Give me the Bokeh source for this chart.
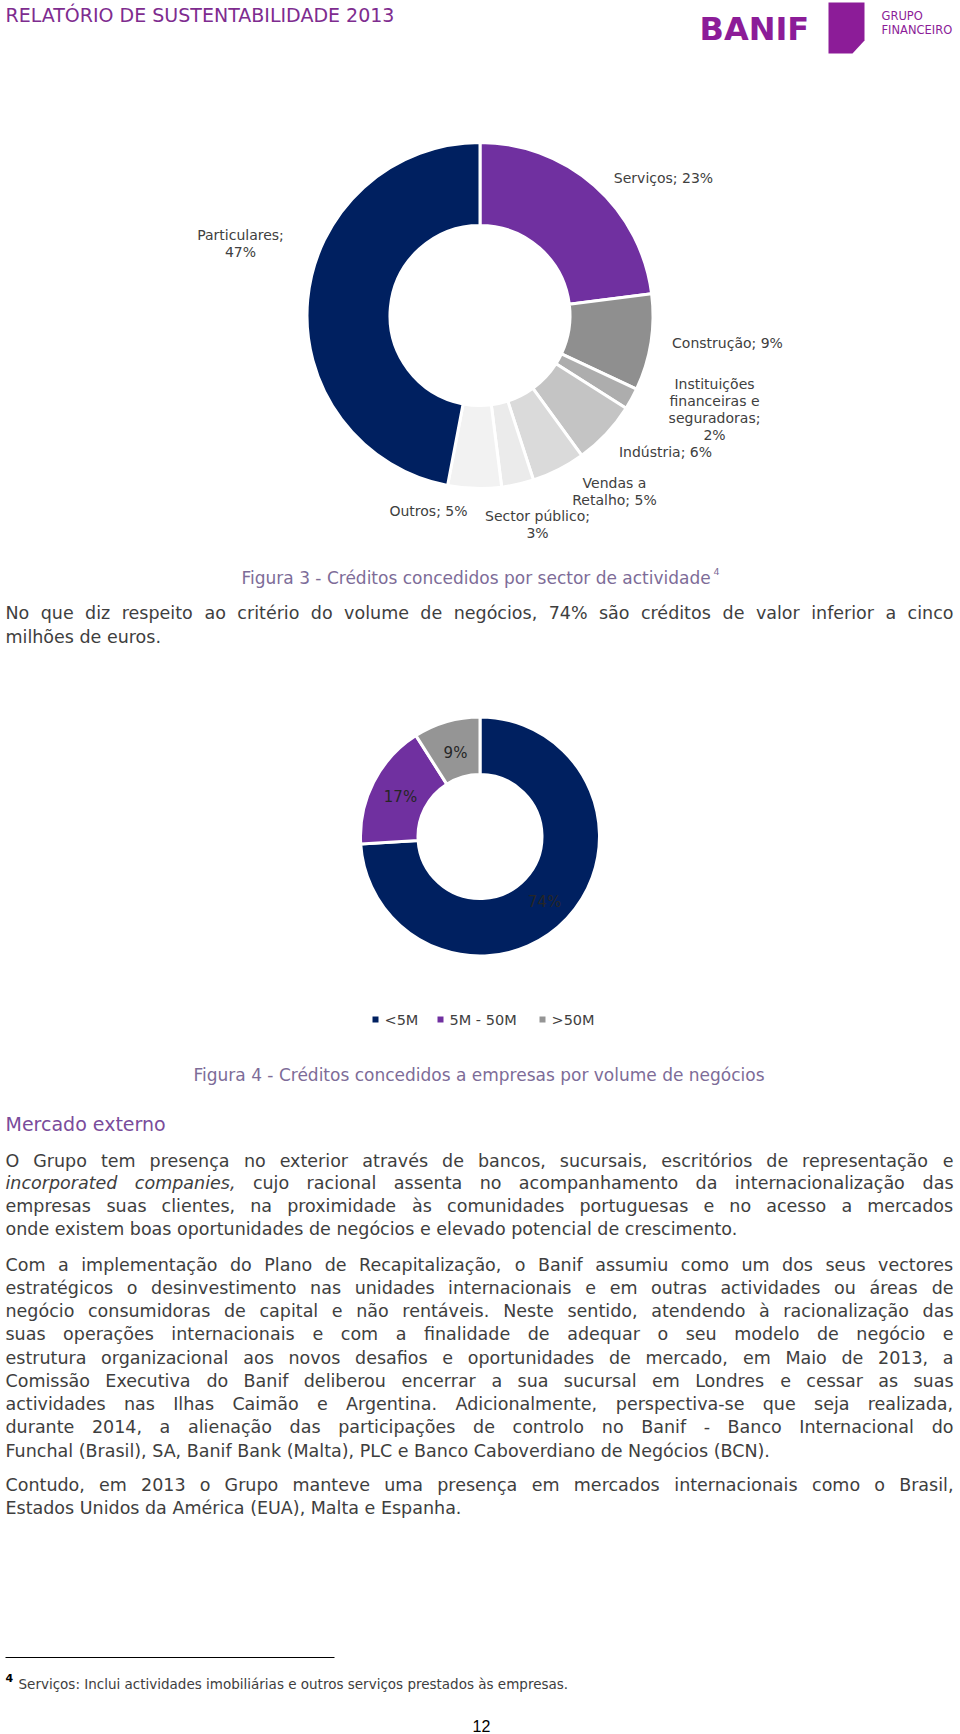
import math
import re
import unicodedata
from bokeh.plotting import figure
from bokeh.models import Range1d
from bokeh.embed import file_html
from bokeh.resources import INLINE
from bokeh.core.properties import value

# ---------------- data ----------------
sector_names = ["Serviços", "Construção", "Instituições financeiras e seguradoras",
                "Indústria", "Vendas a Retalho", "Sector público", "Outros", "Particulares"]
sector_pct = [23, 9, 2, 6, 5, 3, 5, 47]

volume_names = ["<5M", "5M - 50M", ">50M"]
volume_pct = [74, 17, 9]

# ---------------- styles / layout ----------------
W, H = 960, 1734
FONT = "DejaVu Sans"
NAVY, PURPLE = "#002060", "#7030A0"
sector_colors = [PURPLE, "#8F8F8F", "#ADADAD", "#C4C4C4", "#DADADA", "#EBEBEB", "#F2F2F2", NAVY]
volume_colors = [NAVY, PURPLE, "#959595"]
TXT = "#3E3E3E"
LBL = "#404040"
CAP = "#7D6C98"
LOGO = "#8C1C98"

p = figure(width=W, height=H, x_range=Range1d(0, W), y_range=Range1d(0, H),
           x_axis_type=None, y_axis_type=None, toolbar_location=None,
           output_backend="svg", min_border=0)
p.outline_line_color = None
p.grid.visible = False
p.background_fill_color = "white"
p.border_fill_color = "white"


def txt(x, y, s, size, color=TXT, align="left", style="normal", font=FONT, lh=1.2, baseline="middle"):
    p.text(x=[x], y=[H - y], text=[s], text_font=value(font), text_font_size=f"{size}px",
           text_color=color, text_align=align, text_baseline=baseline,
           text_font_style=style, text_line_height=lh)


# DejaVu Sans advance widths (units per em = 2048), used only to justify body lines
_ADV = {" ": 651, ",": 651, ".": 651, "-": 739, ":": 690, ";": 690, "(": 799, ")": 799, "%": 1946,
        "a": 1255, "b": 1300, "c": 1126, "d": 1300, "e": 1260, "f": 721, "g": 1300, "h": 1298,
        "i": 569, "j": 569, "k": 1186, "l": 569, "m": 1995, "n": 1298, "o": 1253, "p": 1300,
        "q": 1300, "r": 842, "s": 1067, "t": 803, "u": 1298, "v": 1212, "w": 1675, "x": 1212,
        "y": 1212, "z": 1075,
        "A": 1401, "B": 1405, "C": 1430, "D": 1577, "E": 1294, "F": 1178, "G": 1587, "H": 1540,
        "I": 604, "J": 604, "K": 1343, "L": 1141, "M": 1767, "N": 1532, "O": 1612, "P": 1235,
        "Q": 1612, "R": 1423, "S": 1300, "T": 1251, "U": 1499, "V": 1401, "W": 2025, "X": 1403,
        "Y": 1251, "Z": 1403}


def word_w(wd, size):
    tot = 0
    for ch in wd:
        if ch.isdigit():
            tot += 1303
            continue
        base = unicodedata.normalize("NFD", ch)[0]
        tot += _ADV.get(base, 1200)
    return tot / 2048.0 * size


LEFT, RIGHT = 5, 953
BODY = 17.5
_NUMLIKE = re.compile(r"^[0-9eE.,+\-]+$")
WJ = "\u2060"   # zero-width word joiner: keeps number-like words on the common text baseline


def body_words(xs, y, ws, style):
    p.text(x=xs, y=[H - y] * len(xs), text=ws, text_font=value(FONT),
           text_font_size=f"{BODY}px", text_color=TXT, text_align="left",
           text_baseline="middle", text_font_style=style)


def body_line(y, line, justify=True, n_italic=0):
    if not justify:
        body_words([LEFT], y, [line], "normal")
        return
    words = line.split(" ")
    widths = [word_w(w, BODY) for w in words]
    gap = (RIGHT - LEFT - sum(widths)) / (len(words) - 1)
    x = LEFT
    xs_n, ws_n, xs_i, ws_i = [], [], [], []
    for k, (w, wd) in enumerate(zip(words, widths)):
        shown = WJ + w if _NUMLIKE.match(w) else w
        if k < n_italic:
            xs_i.append(x); ws_i.append(shown)
        else:
            xs_n.append(x); ws_n.append(shown)
        x += wd + gap
    if xs_n:
        body_words(xs_n, y, ws_n, "normal")
    if xs_i:
        body_words(xs_i, y, ws_i, "italic")


def paragraph(y0, dy, lines, italic=None):
    italic = italic or {}
    for i, line in enumerate(lines):
        last = i == len(lines) - 1
        body_line(y0 + i * dy, line, justify=not last, n_italic=italic.get(i, 0))


def donut(cx, cy, R, r, vals, colors):
    total = float(sum(vals))
    starts, ends, cum = [], [], 0.0
    for v in vals:
        starts.append(math.pi / 2 - 2 * math.pi * (cum + v) / total)
        ends.append(math.pi / 2 - 2 * math.pi * cum / total)
        cum += v
    p.annular_wedge(x=cx, y=H - cy, inner_radius=r, outer_radius=R,
                    start_angle=starts, end_angle=ends, fill_color=colors,
                    line_color="white", line_width=3)


# ---------------- header ----------------
txt(5, 14, "RELATÓRIO DE SUSTENTABILIDADE 2013", 19, "#7E2C8F")
txt(699, 28.5, "BANIF", 32, LOGO, style="bold", baseline="alphabetic")
p.patch(x=[828, 864, 864, 852, 828], y=[H - 2, H - 2, H - 40, H - 53, H - 53],
        fill_color=LOGO, line_color=None)
txt(881, 15, "GRUPO", 11.5, LOGO)
txt(881, 29, "FINANCEIRO", 11.5, LOGO)

# ---------------- donut 1 ----------------
donut(479.5, 315, 173, 90, sector_pct, sector_colors)

# label layout: (center x, center y, words per line)
sector_label_pos = [(663, 177, [3]), (727, 342, [3]), (714, 409, [1, 2, 1, 1]),
                    (665, 451, [3]), (614, 491, [2, 2]), (537, 524, [2, 1]),
                    (428, 510, [3]), (240, 243, [1, 1])]
for name, v, (lx, ly, groups) in zip(sector_names, sector_pct, sector_label_pos):
    words = (name + ";").split(" ") + [f"{v}%"]
    lines, i = [], 0
    for g in groups:
        lines.append(" ".join(words[i:i + g]))
        i += g
    if i < len(words):
        lines[-1] = lines[-1] + " " + " ".join(words[i:])
    txt(lx, ly, "\n".join(lines), 14, LBL, align="center", lh=1.08)

txt(241, 577, "Figura 3 - Créditos concedidos por sector de actividade", 17, CAP)
txt(713, 571, "4", 9.5, CAP)

# ---------------- paragraph 1 ----------------
paragraph(612, 24, [
    "No que diz respeito ao critério do volume de negócios, 74% são créditos de valor inferior a cinco",
    "milhões de euros.",
])

# ---------------- donut 2 ----------------
donut(479.5, 836, 119.5, 62, volume_pct, volume_colors)
vol_label_pos = [(544, 901), (400, 796), (455, 752)]
for v, (lx, ly) in zip(volume_pct, vol_label_pos):
    txt(lx, ly, f"{v}%", 15, "#262626", align="center")

# legend
leg_sq_x = [375, 440, 542]
for name, c, sx in zip(volume_names, volume_colors, leg_sq_x):
    p.rect(x=[sx], y=[H - 1019], width=6, height=6, fill_color=c, line_color=None)
    txt(sx + 9, 1019, name, 14.5, LBL)

txt(193, 1074, "Figura 4 - Créditos concedidos a empresas por volume de negócios", 17, CAP)

# ---------------- Mercado externo ----------------
txt(5, 1123, "Mercado externo", 19, "#7A4C9B")

paragraph(1160, 22.8, [
    "O Grupo tem presença no exterior através de bancos, sucursais, escritórios de representação e",
    "incorporated companies, cujo racional assenta no acompanhamento da internacionalização das",
    "empresas suas clientes, na proximidade às comunidades portuguesas e no acesso a mercados",
    "onde existem boas oportunidades de negócios e elevado potencial de crescimento.",
], italic={1: 2})

paragraph(1264, 23.25, [
    "Com a implementação do Plano de Recapitalização, o Banif assumiu como um dos seus vectores",
    "estratégicos o desinvestimento nas unidades internacionais e em outras actividades ou áreas de",
    "negócio consumidoras de capital e não rentáveis. Neste sentido, atendendo à racionalização das",
    "suas operações internacionais e com a finalidade de adequar o seu modelo de negócio e",
    "estrutura organizacional aos novos desafios e oportunidades de mercado, em Maio de 2013, a",
    "Comissão Executiva do Banif deliberou encerrar a sua sucursal em Londres e cessar as suas",
    "actividades nas Ilhas Caimão e Argentina. Adicionalmente, perspectiva-se que seja realizada,",
    "durante 2014, a alienação das participações de controlo no Banif - Banco Internacional do",
    "Funchal (Brasil), SA, Banif Bank (Malta), PLC e Banco Caboverdiano de Negócios (BCN).",
])

paragraph(1484, 23.5, [
    "Contudo, em 2013 o Grupo manteve uma presença em mercados internacionais como o Brasil,",
    "Estados Unidos da América (EUA), Malta e Espanha.",
])

# ---------------- footnote ----------------
p.line(x=[5, 334], y=[H - 1657, H - 1657], line_color="black", line_width=1)
txt(5, 1677, "4", 11, "black", style="bold")
txt(18, 1683, "Serviços: Inclui actividades imobiliárias e outros serviços prestados às empresas.", 13.5)
txt(481, 1725, "12", 16, "black", align="center", font="Liberation Sans")

open("out.html", "w").write(file_html(p, INLINE))
